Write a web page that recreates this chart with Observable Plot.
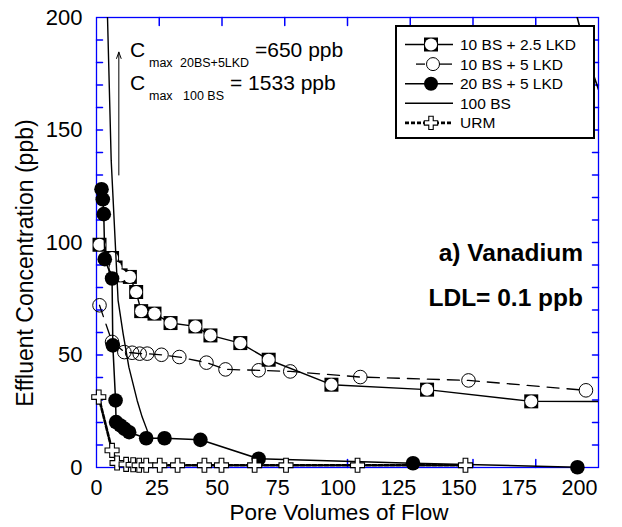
<!DOCTYPE html>
<html><head><meta charset="utf-8">
<script src="https://cdn.jsdelivr.net/npm/d3@7"></script>
<script src="https://cdn.jsdelivr.net/npm/@observablehq/plot@0.6"></script>
<style>body{margin:0;background:#fff}</style>
</head><body><div id="chart"></div>
<script>
const FONT = "'Liberation Sans', Arial, Helvetica, sans-serif";

// Axis ticks
const xTicks = [0, 25, 50, 75, 100, 125, 150, 175, 200];
const yTicks = [0, 50, 100, 150, 200];
const xInnerTicks = [25, 50, 75, 100, 125, 150, 175];
const yInnerTicks = [10, 20, 30, 40, 50, 60, 70, 80, 90, 100, 110, 120, 130, 140, 150, 160, 170, 180, 190];

// 10 BS + 2.5 LKD
const bs10lkd25X = [1.2, 6.2, 7.6, 9.6, 13.3, 15.8, 17.8, 23.1, 29.5, 39.4, 45.4, 57.3, 68.6, 93.6, 131.7, 173.2, 200];
const bs10lkd25Y = [99.0, 93.1, 88.9, 85.4, 84.7, 78.0, 69.5, 68.4, 64.2, 62.7, 58.7, 55.3, 47.9, 36.8, 34.6, 29.4, 29.3];
// 10 BS + 5 LKD
const bs10lkd5X = [1.2, 6.2, 11.1, 14.2, 17.2, 20.2, 25.9, 33.0, 43.8, 51.4, 64.6, 77.2, 105.1, 148.2, 195.0];
const bs10lkd5Y = [72.1, 55.8, 51.3, 51.0, 50.6, 50.6, 50.1, 49.1, 46.6, 43.6, 43.2, 42.7, 40.2, 38.7, 34.3];
// 20 BS + 5 LKD
const bs20lkd5X = [2.0, 2.5, 2.9, 3.3, 6.2, 6.5, 7.6, 7.8, 9.5, 11.2, 13.0, 19.8, 27.1, 41.4, 64.6, 126.1, 191.6];
const bs20lkd5Y = [123.7, 119.2, 112.6, 92.6, 84.0, 54.3, 29.8, 20.2, 18.7, 17.2, 15.7, 13.0, 13.0, 12.3, 3.9, 1.9, 0.1];
// 100 BS (peak 1533 ppb, off scale)
const bs100X = [3.0, 5.85, 8.6, 10.6, 12.9, 16.2, 18.2, 20.2, 20.6];
const bs100Y = [260, 136.6, 74.3, 59.5, 44.6, 29.8, 22.4, 16.5, 13.5];
// 100 BS late segment (top right, off scale)
const bs100LateX = [188, 196, 200];
const bs100LateY = [215, 181, 168];
// URM
const urmX = [0.9, 6.2, 8.2, 11.8, 14.6, 17.0, 19.8, 25.2, 32.3, 43.0, 49.8, 63.0, 75.5, 104.0, 147.0];
const urmY = [31.3, 7.6, 2.0, 1.4, 1.2, 1.0, 1.0, 1.0, 1.0, 1.0, 1.0, 1.0, 1.0, 1.0, 1.0];

// Annotation arrow (data units)
const arrowX = [8.9];
const arrowY1 = [130];
const arrowY2 = [184.6];

// Texts
const legendLabels = ["10 BS + 2.5 LKD", "10 BS + 5 LKD", "20 BS + 5 LKD", "100 BS", "URM"];
const xTitle = "Pore Volumes of Flow";
const yTitle = "Effluent Concentration (ppb)";
const panelTitle = "a) Vanadium";
const ldlText = "LDL= 0.1 ppb";

const pts = (xs, ys) => xs.map((x, i) => ({x, y: ys[i]}));
const s1 = pts(bs10lkd25X, bs10lkd25Y);
const s2 = pts(bs10lkd5X, bs10lkd5Y);
const s3 = pts(bs20lkd5X, bs20lkd5Y);
const s4 = pts(bs100X, bs100Y);
const s4b = pts(bs100LateX, bs100LateY);
const s5 = pts(urmX, urmY);
const arrows = arrowX.map((x, i) => ({x, y1: arrowY1[i], y2: arrowY2[i]}));

const tickShape = {draw(ctx, l) { ctx.moveTo(0, 0); ctx.lineTo(0, -l); }};
const BLUE = "#0000ff";

const plot = Plot.plot({
  width: 622, height: 527,
  marginLeft: 96, marginRight: 24, marginTop: 17, marginBottom: 60,
  style: {fontFamily: FONT, fontSize: "22px", color: "black", background: "white", overflow: "visible"},
  x: {domain: [0, 200]},
  y: {domain: [0, 200]},
  marks: [
    Plot.frame({stroke: BLUE, strokeWidth: 1.3}),
    Plot.vector(xInnerTicks, {x: d => d, y: () => 0, length: 8, rotate: 0, anchor: "start", shape: tickShape, stroke: BLUE}),
    Plot.vector(xInnerTicks, {x: d => d, y: () => 200, length: 8, rotate: 180, anchor: "start", shape: tickShape, stroke: BLUE}),
    Plot.vector(yInnerTicks, {x: () => 0, y: d => d, length: 6, rotate: 90, anchor: "start", shape: tickShape, stroke: BLUE}),
    Plot.vector(yInnerTicks, {x: () => 200, y: d => d, length: 6, rotate: -90, anchor: "start", shape: tickShape, stroke: BLUE}),
    Plot.axisX(xTicks, {tickSize: 0, tickPadding: 12, label: null, fontSize: 21.5}),
    Plot.axisY(yTicks, {tickSize: 0, tickPadding: 14, label: null, fontSize: 22}),

    // 10 BS + 2.5 LKD
    Plot.line(s1, {x: "x", y: "y", stroke: "black", strokeWidth: 1.4, clip: true}),
    Plot.dot(s1.filter(d => d.x < 200), {x: "x", y: "y", symbol: "square", r: 7.9, fill: "black"}),
    Plot.dot(s1.filter(d => d.x < 200), {x: "x", y: "y", r: 6.1, fill: "white"}),
    // 10 BS + 5 LKD
    Plot.line(s2, {x: "x", y: "y", stroke: "black", strokeWidth: 1.3, strokeDasharray: "12,8"}),
    Plot.dot(s2, {x: "x", y: "y", r: 6.8, fill: "none", stroke: "black", strokeWidth: 1}),
    // 20 BS + 5 LKD
    Plot.line(s3, {x: "x", y: "y", stroke: "black", strokeWidth: 1.5}),
    Plot.dot(s3, {x: "x", y: "y", r: 7.3, fill: "black"}),
    // 100 BS
    Plot.line(s4, {x: "x", y: "y", stroke: "black", strokeWidth: 1.4, clip: true}),
    Plot.line(s4b, {x: "x", y: "y", stroke: "black", strokeWidth: 1.6, clip: true}),
    // URM
    Plot.line(s5, {x: "x", y: "y", stroke: "black", strokeWidth: 2.6, strokeDasharray: "4,2"}),
    Plot.dot(s5, {x: "x", y: "y", symbol: "cross", r: 5.9, fill: "white", stroke: "black", strokeWidth: 1.1}),

    Plot.arrow(arrows, {x1: "x", x2: "x", y1: "y1", y2: "y2", stroke: "black", strokeWidth: 1, headLength: 10, headAngle: 40})
  ]
});

document.getElementById("chart").appendChild(plot);
const svg = d3.select(plot);

// slight compression of x tick label row as in the reference
svg.selectAll('g[aria-label="x-axis tick label"] text').each(function() {
  const v = +this.textContent;
  d3.select(this).attr("dx", -0.095 * v);
});

function addText(x, y, str, size, opts = {}) {
  const t = svg.append("text")
    .attr("x", x).attr("y", y)
    .attr("font-family", FONT)
    .attr("font-size", size)
    .attr("fill", "black")
    .attr("text-anchor", opts.anchor || "start")
    .text(str);
  if (opts.bold) t.attr("font-weight", "bold");
  if (opts.rotate) t.attr("transform", `rotate(${opts.rotate},${x},${y})`);
  return t;
}

// Axis titles
addText(339, 520, xTitle, 22.5, {anchor: "middle"});
addText(33, 263, yTitle, 23, {anchor: "middle", rotate: -90});

// Cmax annotations
addText(130, 57, "C", 21);
addText(149, 67, "max", 12.5);
addText(180, 67, "20BS+5LKD", 12.5);
addText(255, 57, "=650 ppb", 21);
addText(130, 90, "C", 21);
addText(149, 100, "max", 12.5);
addText(183, 100, "100 BS", 12.5);
addText(230, 90, "= 1533 ppb", 21);

// Panel labels
addText(583, 261, panelTitle, 24.5, {anchor: "end", bold: true});
addText(583, 306, ldlText, 24.5, {anchor: "end", bold: true});

// Legend
const lg = svg.append("g");
lg.append("rect").attr("x", 396).attr("y", 26).attr("width", 198).attr("height", 112)
  .attr("fill", "white").attr("stroke", "black").attr("stroke-width", 2);
const rowY = i => 44.5 + 19.6 * i;
const mx = 431;
legendLabels.forEach((lab, i) => {
  const y = rowY(i);
  if (i === 1) {
    lg.append("line").attr("x1", 416).attr("x2", 425).attr("y1", y).attr("y2", y).attr("stroke", "black").attr("stroke-width", 1.3);
    lg.append("line").attr("x1", 439).attr("x2", 452).attr("y1", y).attr("y2", y).attr("stroke", "black").attr("stroke-width", 1.3);
  } else if (i === 4) {
    lg.append("line").attr("x1", 405).attr("x2", 453).attr("y1", y).attr("y2", y).attr("stroke", "black").attr("stroke-width", 2.6).attr("stroke-dasharray", "4,2");
  } else {
    lg.append("line").attr("x1", 405).attr("x2", 453).attr("y1", y).attr("y2", y).attr("stroke", "black").attr("stroke-width", 1.5);
  }
  if (i === 0) {
    lg.append("path").attr("d", d3.symbol(d3.symbolSquare, Math.PI * 7.9 * 7.9)()).attr("transform", `translate(${mx},${y})`).attr("fill", "black");
    lg.append("circle").attr("cx", mx).attr("cy", y).attr("r", 6.1).attr("fill", "white");
  } else if (i === 1) {
    lg.append("circle").attr("cx", mx + 2).attr("cy", y).attr("r", 6.5).attr("fill", "none").attr("stroke", "black");
  } else if (i === 2) {
    lg.append("circle").attr("cx", mx).attr("cy", y).attr("r", 7).attr("fill", "black");
  } else if (i === 4) {
    lg.append("path").attr("d", d3.symbol(d3.symbolCross, Math.PI * 5.6 * 5.6)()).attr("transform", `translate(${mx},${y})`).attr("fill", "white").attr("stroke", "black").attr("stroke-width", 1.1);
  }
  lg.append("text").attr("x", 460).attr("y", y).attr("dy", "0.36em")
    .attr("text-anchor", "start")
    .attr("font-family", FONT).attr("font-size", 15.5).attr("fill", "black").text(lab);
});
</script>
</body></html>
